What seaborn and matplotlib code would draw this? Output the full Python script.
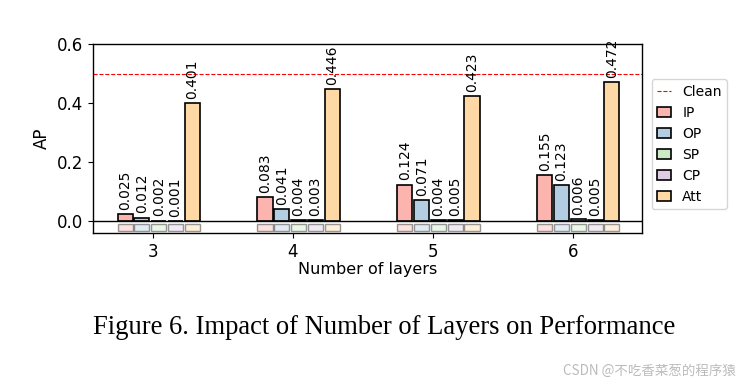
import numpy as np
import pandas as pd
import matplotlib
matplotlib.use('Agg')
import matplotlib.pyplot as plt
import seaborn as sns

# %%
# values
layers = ['3', '4', '5', '6']
methods = ['IP', 'OP', 'SP', 'CP', 'Att']
ip = [0.025, 0.083, 0.124, 0.155]
op = [0.012, 0.041, 0.071, 0.123]
sp = [0.002, 0.004, 0.004, 0.006]
cp = [0.001, 0.003, 0.005, 0.005]
att = [0.401, 0.446, 0.423, 0.472]
clean_ap = 0.5
strip_height = [0.022] * 4   # little pale boxes under the zero line

# %%
values = {'IP': ip, 'OP': op, 'SP': sp, 'CP': cp, 'Att': att}
df = pd.DataFrame([(l, m, values[m][i]) for m in methods for i, l in enumerate(layers)],
                  columns=['layers', 'method', 'AP'])
strip = pd.DataFrame([(l, m, strip_height[i]) for m in methods for i, l in enumerate(layers)],
                     columns=['layers', 'method', 'h'])

sns.set_style('white')
plt.rcParams['font.family'] = ['DejaVu Sans']
for k in ['text.color', 'axes.labelcolor', 'xtick.color', 'ytick.color']:
    plt.rcParams[k] = 'black'
pal = sns.color_palette('Pastel1', 5)

fig = plt.figure(figsize=(7.45, 3.85), dpi=100)
ax = fig.add_axes([0.1248, 0.3948, 0.7369, 0.4909])

sns.barplot(data=df, x='layers', y='AP', hue='method', hue_order=methods, palette=pal,
            width=0.6, gap=0.1, edgecolor='black', linewidth=1.2, saturation=1,
            errorbar=None, ax=ax)

# pale strip below zero
sns.barplot(data=strip, x='layers', y='h', hue='method', hue_order=methods, palette=pal,
            width=0.6, gap=0.1, edgecolor='black', linewidth=1.0, saturation=1,
            errorbar=None, alpha=0.4, bottom=-0.033, legend=False, ax=ax)

# value labels
for cont in ax.containers[:5]:
    ax.bar_label(cont, fmt='%.3f', rotation=90, padding=3, fontsize=10)

ax.axhline(0, color='black', lw=1)
ax.axhline(clean_ap, color='red', ls='--', lw=0.8, label='Clean')

ax.set_ylim(-0.04, 0.6)
ax.set_yticks([0.0, 0.2, 0.4, 0.6])
ax.set_xlim(-0.47, 3.455)
ax.set_xticks(np.arange(4) - 0.04, layers)
ax.tick_params(axis='both', labelsize=12, length=3.5, width=0.8, bottom=True, left=True)
ax.set_xlabel('Number of layers', fontsize=11.5, labelpad=1)
ax.set_ylabel('AP', fontsize=12)
for s in ax.spines.values():
    s.set_color('black')
    s.set_linewidth(1)

h, l = ax.get_legend_handles_labels()
order = [l.index('Clean')] + [l.index(m) for m in methods]
ax.legend([h[i] for i in order], [l[i] for i in order], loc='upper left',
          bbox_to_anchor=(1.005, 0.85), fontsize=10, frameon=True,
          handlelength=1.0, handletextpad=0.8)

fig.text(0.515, 0.15, 'Figure 6. Impact of Number of Layers on Performance',
         fontsize=19.2, family='Liberation Serif', ha='center', va='center')
fig.text(0.988, 0.038, 'CSDN @不吃香菜葱的程序猿', fontsize=9.7, color='#bbbbbb',
         family=['Noto Sans CJK SC', 'DejaVu Sans'], ha='right', va='center')

fig.savefig('out.png', dpi=100)
